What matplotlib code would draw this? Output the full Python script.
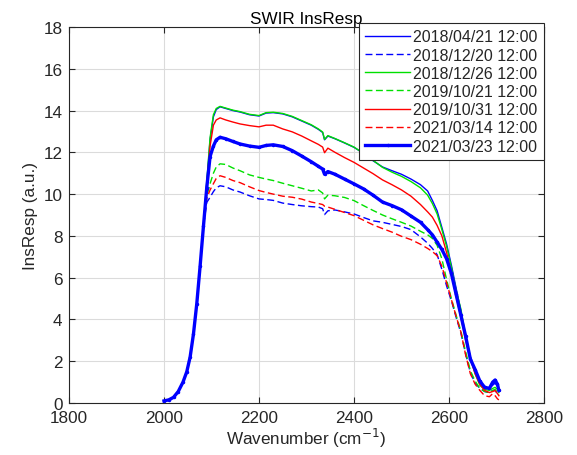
import matplotlib
matplotlib.use("Agg")
import matplotlib.pyplot as plt
import numpy as np

# wavenumber grid (cm^-1) shared by all curves
wn = [2000, 2010, 2020, 2030, 2040, 2048, 2055, 2062, 2069, 2076, 2083,
      2090, 2097, 2104, 2110, 2118, 2130, 2145, 2160, 2180, 2200, 2215,
      2230, 2250, 2270, 2290, 2310, 2325, 2334, 2338, 2345, 2360, 2380,
      2400, 2420, 2440, 2460, 2480, 2500, 2520, 2540, 2555, 2565, 2575,
      2585, 2595, 2605, 2615, 2625, 2635, 2645, 2655, 2665, 2675, 2685,
      2692, 2697, 2702, 2705]

rise = [0.10, 0.15, 0.27, 0.55, 1.00, 1.50, 2.20, 3.30, 4.75, 6.55, 8.45]

blue_0421 = rise + [10.5, 12.6, 13.7, 14.05, 14.18, 14.1, 14.0, 13.93, 13.8, 13.74, 13.88,
                    13.9, 13.84, 13.7, 13.5, 13.3, 13.1, 12.95, 12.6, 12.78, 12.65, 12.45,
                    12.24, 11.95, 11.6, 11.3, 11.12, 10.95, 10.72, 10.45, 10.15, 9.7, 9.2,
                    8.4, 7.6, 6.6, 5.5, 4.4, 3.1, 2.2, 1.55, 1.0, 0.75, 0.7,
                    0.85, 0.95, 0.8, 0.55]
blue_1220 = rise + [9.6, 9.85, 10.12, 10.3, 10.4, 10.35, 10.2, 10.1, 9.92, 9.77, 9.74,
                    9.7, 9.57, 9.5, 9.44, 9.4, 9.38, 9.3, 9.02, 9.2, 9.24, 9.15,
                    9.05, 8.88, 8.72, 8.65, 8.55, 8.45, 8.3, 7.95, 7.65, 7.4, 7.1,
                    6.4, 5.6, 4.9, 4.1, 3.35, 2.35, 1.45, 0.95, 0.7, 0.55, 0.5,
                    0.6, 0.6, 0.45, 0.35]
green_1226 = rise + [10.6, 12.7, 13.8, 14.1, 14.2, 14.12, 14.02, 13.95, 13.82, 13.76, 13.9,
                     13.92, 13.86, 13.72, 13.52, 13.32, 13.12, 12.97, 12.62, 12.8, 12.66, 12.46,
                     12.25, 11.95, 11.62, 11.28, 11.05, 10.85, 10.6, 10.3, 9.95, 9.55, 9.05,
                     8.3, 7.5, 6.5, 5.4, 4.5, 3.2, 2.2, 1.4, 0.85, 0.65, 0.6,
                     0.7, 0.75, 0.65, 0.5]
green_1021 = rise + [9.9, 10.5, 11.0, 11.3, 11.45, 11.42, 11.25, 11.12, 10.92, 10.8, 10.72,
                     10.65, 10.52, 10.4, 10.28, 10.15, 10.2, 10.05, 9.77, 9.95, 9.92, 9.84,
                     9.69, 9.45, 9.22, 9.0, 8.82, 8.65, 8.47, 8.22, 8.05, 7.88, 7.55,
                     6.9, 5.9, 5.0, 4.2, 3.45, 2.45, 1.55, 1.05, 0.7, 0.55, 0.5,
                     0.6, 0.65, 0.5, 0.4]
red_1031 = rise + [10.4, 12.3, 13.3, 13.55, 13.65, 13.55, 13.45, 13.36, 13.28, 13.22, 13.3,
                   13.3, 13.12, 12.98, 12.78, 12.55, 12.38, 12.25, 11.98, 12.2, 12.0, 11.75,
                   11.52, 11.25, 10.98, 10.68, 10.45, 10.2, 9.9, 9.5, 9.15, 8.9, 8.5,
                   8.0, 7.2, 6.2, 5.1, 4.1, 3.0, 2.1, 1.4, 0.9, 0.6, 0.5,
                   0.55, 0.6, 0.45, 0.35]
red_0314 = rise + [9.8, 10.2, 10.5, 10.75, 10.88, 10.8, 10.65, 10.55, 10.35, 10.17, 10.08,
                   10.0, 9.9, 9.85, 9.76, 9.62, 9.55, 9.5, 9.42, 9.38, 9.27, 9.12,
                   8.97, 8.75, 8.53, 8.35, 8.18, 7.98, 7.82, 7.6, 7.4, 7.25, 7.05,
                   6.55, 5.75, 4.95, 4.15, 3.4, 2.3, 1.4, 0.9, 0.6, 0.35, 0.3,
                   0.45, 0.35, 0.2, 0.15]
blue_0323 = rise + [10.3, 11.8, 12.3, 12.6, 12.72, 12.65, 12.52, 12.4, 12.3, 12.24, 12.33,
                    12.36, 12.28, 12.08, 11.82, 11.55, 11.33, 11.2, 10.95, 11.08, 10.95, 10.72,
                    10.49, 10.25, 9.95, 9.62, 9.45, 9.25, 8.95, 8.65, 8.3, 8.05, 7.7,
                    7.35, 6.9, 6.2, 5.2, 4.2, 3.2, 2.1, 1.6, 1.05, 0.75, 0.7,
                    1.0, 1.1, 0.9, 0.6]

labels = ["2018/04/21 12:00", "2018/12/20 12:00", "2018/12/26 12:00",
          "2019/10/21 12:00", "2019/10/31 12:00", "2021/03/14 12:00",
          "2021/03/23 12:00"]

plt.rcParams['font.family'] = ['Liberation Sans', 'DejaVu Sans']
plt.rcParams['font.size'] = 12.3
dark = '0.15'

fig = plt.figure(figsize=(5.77, 4.56), dpi=100)
ax = fig.add_axes([69/577, 1 - 404/456, 475/577, 376/456])

ax.plot(wn, blue_0421, color='b', lw=1.0, label=labels[0])
ax.plot(wn, blue_1220, color='b', lw=1.0, dashes=(5, 2.5), label=labels[1])
ax.plot(wn, green_1226, color='#00e000', lw=1.0, label=labels[2])
ax.plot(wn, green_1021, color='#00e000', lw=1.0, dashes=(5, 2.5), label=labels[3])
ax.plot(wn, red_1031, color='r', lw=1.0, label=labels[4])
ax.plot(wn, red_0314, color='r', lw=1.0, dashes=(5, 2.5), label=labels[5])
ax.plot(wn, blue_0323, color='b', lw=2.4, marker='.', markersize=3, label=labels[6])

ax.set_xlim(1800, 2800)
ax.set_ylim(0, 18)
ax.set_xticks(np.arange(1800, 2801, 200))
ax.set_yticks(np.arange(0, 19, 2))
ax.grid(True, color='0.86', lw=0.8)
ax.set_axisbelow(True)
ax.tick_params(direction='in', top=True, right=True, length=4,
               colors=dark, labelcolor=dark, width=0.8)
ax.tick_params(axis='x', pad=5)
ax.tick_params(axis='y', pad=4.6)
for s in ax.spines.values():
    s.set_color(dark)
    s.set_linewidth(0.8)

ax.set_title('SWIR InsResp', fontsize=12.3, pad=3)
ax.set_xlabel('Wavenumber (cm$^{-1}$)', color=dark, labelpad=1)
ax.set_ylabel('InsResp (a.u.)', color=dark, labelpad=4)

leg = ax.legend(loc='upper right', bbox_to_anchor=(1.0, 1.0 + 4/376),
                borderaxespad=0, handlelength=2.8, handletextpad=0.2,
                labelspacing=0.2, borderpad=0.4, fancybox=False,
                framealpha=1, edgecolor=dark, numpoints=1, fontsize=11.5)
leg.get_frame().set_linewidth(0.8)
for t in leg.get_texts():
    t.set_color(dark)

fig.savefig('out.png', dpi=100)
